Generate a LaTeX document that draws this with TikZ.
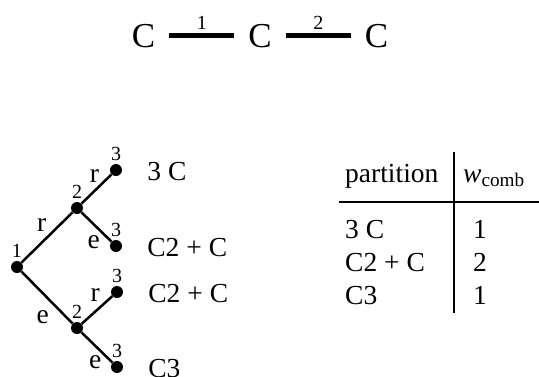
\documentclass[tikz,border=0pt]{standalone}
\usepackage{fontspec}
\setmainfont{Liberation Serif}
\usetikzlibrary{positioning}

\begin{document}
\begin{tikzpicture}[x=1pt,y=-1pt,
    big/.style={font=\fontsize{35}{40}\selectfont},
    txt/.style={font=\fontsize{27.5}{30}\selectfont,inner sep=0pt},
    small/.style={font=\fontsize{20}{22}\selectfont,inner sep=0pt},
    dot/.style={circle,fill,inner sep=0pt,minimum size=12pt},
    lvl/.style={label={[small,label distance=3pt]above:#1}},
    tree/.style={line width=2.5pt},
    bond/.style={line width=5pt},
    rule/.style={line width=1.5pt}]
  \useasboundingbox (0,0) rectangle (539,376);
  % the chain C - C - C
  \foreach \k/\px in {1/143.5,2/260,3/376.5}
    \node[big,inner xsep=14pt,inner ysep=0pt,anchor=base] (c\k) at (\px,47) {C};
  \draw[bond] (c1) -- node[small,above=4pt] {1} (c2);
  \draw[bond] (c2) -- node[small,above=4pt] {2} (c3);
  % the tree of cuts
  \node[dot,lvl=1] (root) at (17,267) {};
  \node[dot,lvl=2] (ra) at (77,208) {};
  \node[dot,lvl=2] (rb) at (77,328) {};
  \foreach \nm/\px/\py in {a1/116/170,a2/116/246,b1/117/292,b2/117/367}
    \node[dot,lvl=3] (\nm) at (\px,\py) {};
  \draw[tree] (root) -- node[txt,pos=0.55,above left=3pt] {r} (ra);
  \draw[tree] (root) -- node[txt,pos=0.6,below left=7pt and 2pt] {e} (rb);
  \draw[tree] (ra) -- node[txt,pos=0.65,above left=1pt] {r} (a1);
  \draw[tree] (ra) -- node[txt,pos=0.7,below left=2pt] {e} (a2);
  \draw[tree] (rb) -- node[txt,pos=0.7,above left=3pt] {r} (b1);
  \draw[tree] (rb) -- node[txt,pos=0.7,below left=1pt] {e} (b2);
  \foreach \nm/\txt in {a1/3 C,a2/C2 + C,b1/C2 + C,b2/C3}
    \node[txt,right=25pt of \nm,yshift=-2pt] (p\nm) {\txt};
  % the table
  \node[txt,anchor=base west] (hpart) at (345,182) {partition};
  \node[txt,anchor=base west] (hw) at (463,182) {\textit{w}\textsubscript{comb}};
  \foreach \i/\p/\w/\yy in {1/3 C/1/238,2/C2 + C/2/271,3/C3/1/304} {
    \node[txt,anchor=base west] (part\i) at (345,\yy) {\p};
    \node[txt,anchor=base west] (w\i) at (473,\yy) {\w};
  }
  \draw[rule] (339,202) -- (539,202);
  \draw[rule] (454,152) -- (454,313);
\end{tikzpicture}
\end{document}
